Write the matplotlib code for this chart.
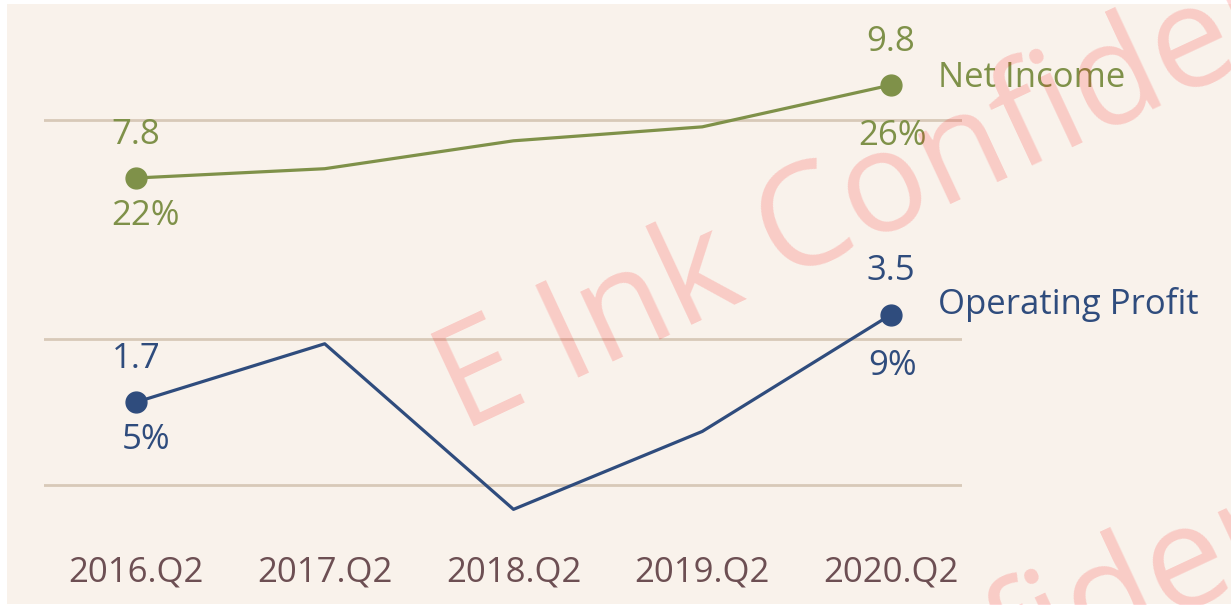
import matplotlib.pyplot as plt
from matplotlib.patches import Rectangle

quarters = ['2016.Q2', '2017.Q2', '2018.Q2', '2019.Q2', '2020.Q2']
net_income = [7.8, 8.0, 8.6, 8.9, 9.8]
op_profit = [1.7, 2.9, -0.5, 1.1, 3.5]
net_margin = ['22%', '', '', '', '26%']
op_margin = ['5%', '', '', '', '9%']
grid_vals = [0, 3, 7.5]  # on the operating profit scale

green = '#7F9149'
navy = '#2F4C7D'
brown = '#6D4F53'
beige = '#F9F2EB'
plt.rcParams['font.family'] = ['Open Sans', 'DejaVu Sans']

W, H = 1231, 605
fig = plt.figure(figsize=(W / 100, H / 100), dpi=100, facecolor='white')
fig.patches.append(Rectangle((7 / W, 1 / H), 1, 600 / H, transform=fig.transFigure,
                             facecolor=beige, edgecolor='none', zorder=-10))

ax = fig.add_axes([44 / W, (H - 545) / H, 918 / W, 541 / H])
ax.patch.set_visible(False)
ax2 = ax.twinx()
ax2.patch.set_visible(False)

x = range(len(quarters))
for a in (ax, ax2):
    a.set_xlim(-0.487, 4.376)
    for s in a.spines.values():
        s.set_visible(False)
    a.tick_params(left=False, right=False, bottom=False, labelleft=False, labelright=False)
ax.set_ylim(-1.232, 9.877)
ax2.set_ylim(-0.092, 11.542)

for g in grid_vals:
    ax.axhline(g, color='#D8C9B8', lw=2, zorder=1)

ax.plot(x, op_profit, color=navy, lw=2.3, zorder=3)
ax.plot([0, 4], [op_profit[0], op_profit[4]], 'o', color=navy, ms=15, zorder=4)
ax2.plot(x, net_income, color=green, lw=2.3, zorder=3)
ax2.plot([0, 4], [net_income[0], net_income[4]], 'o', color=green, ms=15, zorder=4)

fs = 25
# value labels above, margins below (first and last points only)
pct_off = {0: (7, -27), 4: (1, -37)}
for i in (0, 4):
    ax.annotate(f'{op_profit[i]:.1f}', (i, op_profit[i]), xytext=(0, 31), textcoords='offset points',
                ha='center', va='center', color=navy, fontsize=fs)
    ax.annotate(op_margin[i], (i, op_profit[i]), xytext=pct_off[i], textcoords='offset points',
                ha='center', va='center', color=navy, fontsize=fs)
    ax2.annotate(f'{net_income[i]:.1f}', (i, net_income[i]), xytext=(0, 31), textcoords='offset points',
                 ha='center', va='center', color=green, fontsize=fs)
    ax2.annotate(net_margin[i], (i, net_income[i]), xytext=pct_off[i], textcoords='offset points',
                 ha='center', va='center', color=green, fontsize=fs)

ax2.annotate('Net Income', (4, net_income[4]), xytext=(34, 5), textcoords='offset points',
             ha='left', va='center', color=green, fontsize=fs)
ax.annotate('Operating Profit', (4, op_profit[4]), xytext=(34, 7), textcoords='offset points',
            ha='left', va='center', color=navy, fontsize=fs)

ax.set_xticks(list(x))
ax.set_xticklabels(quarters, color=brown, fontsize=fs)
ax.tick_params(axis='x', pad=4)

# watermark
for dx, dy in [(0, 0), (-5, 520)]:
    fig.text((462 + dx) / W, 1 - (432 + dy) / H, 'E Ink Confidential', fontsize=102,
             color='red', alpha=0.16, rotation=25, rotation_mode='anchor',
             ha='left', va='baseline', zorder=20)

fig.savefig('out.png', dpi=100, facecolor='white')
